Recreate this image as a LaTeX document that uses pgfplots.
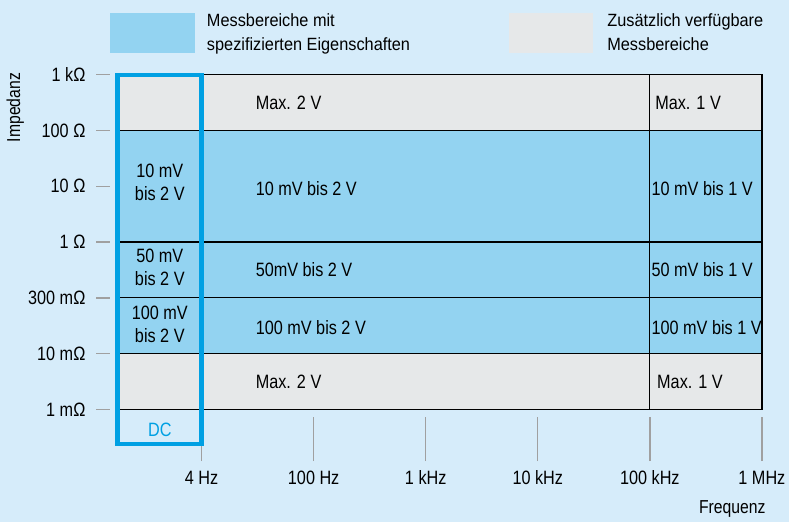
\documentclass[border=0pt]{standalone}
\usepackage{pgfplots}
\pgfplotsset{compat=1.18}
\usepackage{fontspec}
\setmainfont{Liberation Sans}[FakeStretch=0.84]
\newfontfamily\legfont{Liberation Sans}[FakeStretch=0.92]

\definecolor{bgblue}{RGB}{214,236,250}
\definecolor{specblue}{RGB}{147,211,241}
\definecolor{extragray}{RGB}{230,232,233}
\definecolor{frameblue}{RGB}{0,160,227}
\definecolor{tickgray}{RGB}{160,160,160}
\newcommand\lab{\fontsize{9.7}{11.5}\selectfont}

\begin{document}
\begin{tikzpicture}
\begin{axis}[
  set layers,
  x=56.25pt, y=28pt,
  xmin=0.058, xmax=6.2, ymin=-0.929, ymax=6.1,
  clip=false,
  axis lines*=left,
  axis line style={draw=none},
  xtick={1,2,3,4,5,6},
  xticklabels={4 Hz,100 Hz,1 kHz,10 kHz,100 kHz,1 MHz},
  ytick={0,1,2,3,4,5,6},
  yticklabels={1 mΩ,10 mΩ,300 mΩ,1 Ω,10 Ω,100 Ω,1 kΩ},
  tick align=inside,
  tick style={draw=tickgray, line width=0.7pt},
  xtick style={/pgfplots/major tick length=22pt},
  ytick style={/pgfplots/major tick length=7pt},
  tick label style={font=\lab},
  xticklabel style={yshift=-1.3pt},
  yticklabel style={xshift=-1.8pt},
  xlabel={Frequenz}, ylabel={Impedanz},
  label style={font=\fontsize{9.4}{11}\selectfont},
  xlabel style={at={(axis description cs:0.9243,-0.1211)}, anchor=center},
  ylabel style={at={(axis description cs:-0.1172,0.902)}, anchor=center},
  legend columns=2,
  legend image code/.code={\fill[#1,draw=none] (0pt,-10pt) rectangle (42.5pt,10pt);},
  legend style={at={(axis description cs:0.0202,1.1433)}, anchor=north west,
    draw=none, fill=none, inner sep=0pt,
    font=\legfont\fontsize{8.9}{12}\selectfont,
    nodes={align=left, inner sep=0pt},
    /tikz/column 1/.style={column sep=6pt},
    /tikz/column 2/.style={column sep=49.5pt},
    /tikz/column 3/.style={column sep=7pt}},
]
\begin{pgfonlayer}{axis background}
\fill[bgblue] (axis cs:-0.79556,-2.0179) rectangle (axis cs:6.24444,7.3393);
\end{pgfonlayer}

% specified ranges
\addplot[fill=specblue, draw=black, line width=0.6pt] coordinates {(0.25,3) (6,3) (6,5) (0.25,5)} -- cycle;
\addlegendentry{Messbereiche mit\\spezifizierten Eigenschaften}
\addplot[fill=specblue, draw=black, line width=0.6pt, forget plot] coordinates {(0.25,2) (6,2) (6,3) (0.25,3)} -- cycle;
\addplot[fill=specblue, draw=black, line width=0.6pt, forget plot] coordinates {(0.25,1) (6,1) (6,2) (0.25,2)} -- cycle;
% additional ranges
\addplot[fill=extragray, draw=black, line width=0.6pt] coordinates {(0.25,5) (6,5) (6,6) (0.25,6)} -- cycle;
\addlegendentry{Zusätzlich verfügbare\\Messbereiche}
\addplot[fill=extragray, draw=black, line width=0.6pt, forget plot] coordinates {(0.25,0) (6,0) (6,1) (0.25,1)} -- cycle;
% 100 kHz divider
\addplot[black, line width=0.6pt, forget plot] coordinates {(5,0) (5,6)};
% DC column frame
\addplot[draw=frameblue, line width=2.2pt, line join=miter, forget plot] coordinates {(0.25,-0.625) (1,-0.625) (1,6) (0.25,6)} -- cycle;

\node[anchor=west, inner sep=0pt, font=\lab] at (axis cs:1.48,5.5) {Max. 2 V};
\node[anchor=west, inner sep=0pt, font=\lab] at (axis cs:1.48,3.95) {10 mV bis 2 V};
\node[anchor=west, inner sep=0pt, font=\lab] at (axis cs:1.48,2.5) {50mV bis 2 V};
\node[anchor=west, inner sep=0pt, font=\lab] at (axis cs:1.48,1.46) {100 mV bis 2 V};
\node[anchor=west, inner sep=0pt, font=\lab] at (axis cs:1.48,0.5) {Max. 2 V};

\node[anchor=west, inner sep=0pt, font=\lab] at (axis cs:5.045,5.5) {Max. 1 V};
\node[anchor=west, inner sep=0pt, font=\lab] at (axis cs:5.012,3.95) {10 mV bis 1 V};
\node[anchor=west, inner sep=0pt, font=\lab] at (axis cs:5.012,2.5) {50 mV bis 1 V};
\node[anchor=west, inner sep=0pt, font=\lab] at (axis cs:5.012,1.46) {100 mV bis 1 V};
\node[anchor=west, inner sep=0pt, font=\lab] at (axis cs:5.062,0.5) {Max. 1 V};

\node[align=center, inner sep=0pt, font=\lab] at (axis cs:0.627,4.07) {10 mV\\bis 2 V};
\node[align=center, inner sep=0pt, font=\lab] at (axis cs:0.627,2.55) {50 mV\\bis 2 V};
\node[align=center, inner sep=0pt, font=\lab] at (axis cs:0.627,1.52) {100 mV\\bis 2 V};
\node[inner sep=0pt, font=\lab, text=frameblue] at (axis cs:0.627,-0.36) {DC};
\end{axis}
\end{tikzpicture}
\end{document}
